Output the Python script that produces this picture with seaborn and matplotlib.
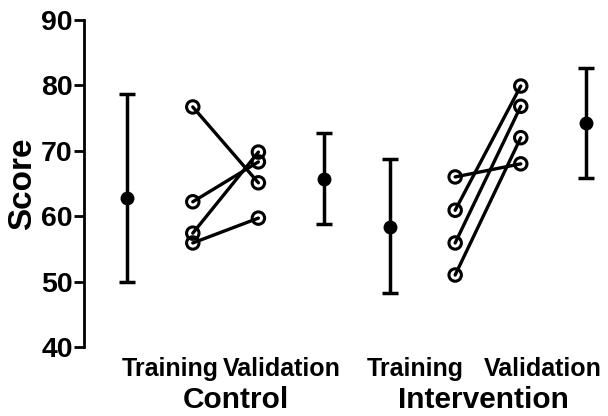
import numpy as np
import pandas as pd
import seaborn as sns
import matplotlib.pyplot as plt

# summary columns (mean with range bars)
summary_pos = [0, 3, 4, 7]
summary_mean = [62.8, 65.7, 58.3, 74.2]
summary_low = [50.0, 58.8, 48.3, 65.8]
summary_high = [78.7, 72.7, 68.7, 82.7]

# paired individual scores (training -> validation)
control_train = [76.7, 62.2, 57.4, 55.9]
control_valid = [65.1, 68.3, 69.8, 59.7]
interv_train = [66.0, 60.9, 55.9, 51.0]
interv_valid = [68.0, 79.9, 76.8, 72.0]

tick_pos = [0.66, 2.36, 4.39, 6.34]
tick_labels = ["Training", "Validation", "Training", "Validation"]
group_pos = [1.66, 5.43]
group_labels = ["Control", "Intervention"]

rows = []
for i, (a, b) in enumerate(zip(control_train, control_valid)):
    rows.append(dict(subj=f"c{i}", x=1, score=a))
    rows.append(dict(subj=f"c{i}", x=2, score=b))
for i, (a, b) in enumerate(zip(interv_train, interv_valid)):
    rows.append(dict(subj=f"i{i}", x=5, score=a))
    rows.append(dict(subj=f"i{i}", x=6, score=b))
df = pd.DataFrame(rows)

sns.set_style("ticks")
plt.rcParams["font.family"] = ["Liberation Sans", "DejaVu Sans"]
plt.rcParams["font.weight"] = "bold"
plt.rcParams["text.color"] = "black"
plt.rcParams["axes.labelcolor"] = "black"
plt.rcParams["xtick.color"] = "black"
plt.rcParams["ytick.color"] = "black"
plt.rcParams["axes.edgecolor"] = "black"

fig = plt.figure(figsize=(6.08, 4.16), dpi=100)
ax = fig.add_axes([0.138, 0.166, 0.862, 0.786])

sns.lineplot(data=df, x="x", y="score", units="subj", estimator=None,
             color="black", linewidth=2.4, ax=ax, legend=False)
sns.scatterplot(data=df, x="x", y="score", marker="o", s=80, fc="none",
                ec="black", linewidth=2.2, ax=ax, legend=False, zorder=3)

mean = np.array(summary_mean)
yerr = [mean - np.array(summary_low), np.array(summary_high) - mean]
ax.errorbar(summary_pos, mean, yerr=yerr, fmt="o", color="black", ms=9,
            elinewidth=2.5, capsize=6, capthick=2.5)

ax.set_xlim(-0.66, 7.33)
ax.set_ylim(40, 90)
ax.set_yticks(range(40, 91, 10))
ax.set_xticks(tick_pos)
ax.set_xticklabels(tick_labels, fontsize=18, fontweight="bold")
ax.tick_params(axis="x", length=0, pad=7.5)
ax.tick_params(axis="y", labelsize=20.5, width=2, length=7, pad=1)
for lab in ax.get_yticklabels():
    lab.set_fontweight("bold")
for name in ["top", "right", "bottom"]:
    ax.spines[name].set_visible(False)
ax.spines["left"].set_linewidth(2)
ax.set_xlabel("")
ax.set_ylabel("Score", fontsize=24, fontweight="bold", labelpad=2)

for p, g in zip(group_pos, group_labels):
    ax.text(p, -0.187, g, transform=ax.get_xaxis_transform(), ha="center",
            va="baseline", fontsize=21.5, fontweight="bold")

fig.savefig("out.png", dpi=100)
